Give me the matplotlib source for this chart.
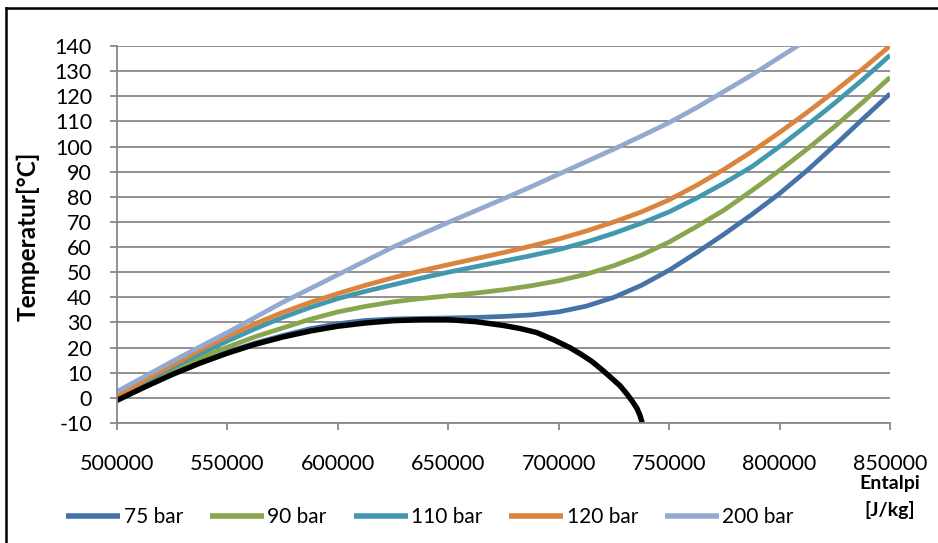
import matplotlib
matplotlib.use("Agg")
import matplotlib.pyplot as plt
from matplotlib.lines import Line2D
from matplotlib.ticker import MultipleLocator, FuncFormatter

# Enthalpy grid for the isobars [J/kg]
enthalpy = [500000, 512500, 525000, 537500, 550000, 562500, 575000, 587500,
            600000, 612500, 625000, 637500, 650000, 662500, 675000, 687500,
            700000, 712500, 725000, 737500, 750000, 762500, 775000, 787500,
            800000, 812500, 825000, 837500, 850000]

# Temperature along each isobar [°C]
t_75 = [-0.5, 4.8, 9.8, 14.2, 18.3, 21.8, 24.8, 27.5, 29.5, 30.8, 31.4, 31.6,
        31.8, 32.0, 32.4, 33.0, 34.2, 36.5, 40.0, 44.8, 50.8, 57.8, 65.2, 73.0,
        81.3, 90.5, 100.5, 110.8, 121.0]
t_90 = [0.0, 5.5, 10.8, 15.8, 20.2, 24.3, 27.8, 31.3, 34.2, 36.4, 38.2, 39.5,
        40.6, 41.7, 43.0, 44.6, 46.6, 49.2, 52.6, 56.8, 62.0, 68.2, 74.8, 82.5,
        90.5, 99.0, 108.0, 117.5, 127.5]
t_110 = [0.5, 6.5, 12.2, 17.5, 22.6, 27.5, 32.0, 36.0, 39.5, 42.4, 45.0, 47.6,
         50.0, 52.2, 54.4, 56.6, 59.0, 62.0, 65.5, 69.5, 74.0, 79.5, 85.5, 92.0,
         100.0, 108.5, 117.3, 126.5, 136.3]
t_120 = [0.5, 7.0, 13.0, 19.0, 24.5, 29.5, 34.0, 38.0, 41.5, 44.8, 47.8, 50.5,
         53.0, 55.4, 57.8, 60.4, 63.2, 66.4, 70.0, 74.0, 78.8, 84.6, 91.0, 98.0,
         105.6, 113.6, 122.0, 130.8, 140.0]
t_200 = [2.5, 8.5, 14.5, 20.3, 26.0, 32.0, 38.0, 43.5, 49.0, 54.5, 60.0, 65.0,
         69.8, 74.5, 79.2, 84.0, 89.0, 94.0, 99.0, 104.2, 109.5, 115.5, 122.0,
         128.5, 135.5, 142.5]

# Saturation dome
dome_h = [500000, 512500, 525000, 537500, 550000, 562500, 575000, 587500,
          600000, 612500, 625000, 637500, 650000, 662500, 675000, 682500,
          690000, 697500, 705000, 710000, 715000, 720000, 724000, 727800,
          731000, 733500, 735500, 736800, 737800]
dome_t = [-1.0, 4.3, 9.3, 13.8, 17.8, 21.3, 24.2, 26.6, 28.5, 29.8, 30.7, 31.1,
          31.1, 30.3, 28.8, 27.6, 26.0, 23.2, 20.0, 17.4, 14.5, 10.9, 7.8, 4.8,
          1.4, -1.6, -4.3, -7.0, -10.0]

series_labels = ["75 bar", "90 bar", "110 bar", "120 bar", "200 bar"]
series_values = [t_75, t_90, t_110, t_120, t_200]
series_colors = ["#4572A7", "#89A54E", "#4198AF", "#DB843D", "#93A9CF"]

x_ticks = [500000, 550000, 600000, 650000, 700000, 750000, 800000, 850000]

FONT = "Lato"
GRID = "#888888"

W, H = 938, 543
fig = plt.figure(figsize=(W / 100, H / 100), dpi=100)
ax = fig.add_axes([117 / W, 1 - 423 / H, (890 - 117) / W, (423 - 46) / H])

for label, vals, color in zip(series_labels, series_values, series_colors):
    ax.plot(enthalpy[:len(vals)], vals, color=color, lw=3.4, label=label,
            solid_capstyle="butt", solid_joinstyle="round")
ax.plot(dome_h, dome_t, color="black", lw=3.9, solid_capstyle="butt",
        solid_joinstyle="round")

ax.set_xlim(500000, 850000)
ax.set_ylim(-10, 140)
ax.set_xticks(x_ticks)
ax.yaxis.set_major_locator(MultipleLocator(10))
ax.xaxis.set_major_formatter(FuncFormatter(lambda v, p: f"{v:.0f}"))
ax.yaxis.set_major_formatter(FuncFormatter(lambda v, p: f"{v:.0f}"))

ax.grid(axis="y", color=GRID, lw=1.3)
ax.set_axisbelow(True)
for side in ("top", "right"):
    ax.spines[side].set_visible(False)
for side in ("left", "bottom"):
    ax.spines[side].set_color(GRID)
    ax.spines[side].set_linewidth(1.3)

ax.tick_params(axis="both", direction="out", length=5, width=1.3, color=GRID,
               labelsize=15.5, labelcolor="black")
ax.tick_params(axis="y", pad=13)
ax.tick_params(axis="x", pad=17)
for t in ax.get_xticklabels() + ax.get_yticklabels():
    t.set_fontfamily(FONT)

# Axis titles
fig.text(28 / W, 1 - 236 / H, "Temperatur[°C]", rotation=90, ha="center",
         va="center", fontsize=17.5, fontweight="bold", family=FONT)
fig.text(890 / W, 1 - 484 / H, "Entalpi", ha="center", va="center",
         fontsize=14, fontweight="bold", family=FONT)
fig.text(890 / W, 1 - 510 / H, "[J/kg]", ha="center", va="center",
         fontsize=14, fontweight="bold", family=FONT)

# Legend row along the bottom
fig.legend(loc="center", bbox_to_anchor=(430 / W, 1 - 517 / H), ncol=5,
           frameon=False, prop={"family": FONT, "size": 15},
           handlelength=2.6, handletextpad=0.15, columnspacing=1.3,
           borderpad=0, borderaxespad=0)
for line in fig.legends[0].get_lines():
    line.set_linewidth(4.0)

# Chart border
fig.add_artist(Line2D([5.5 / W, 5.5 / W], [1 - 8 / H, -0.05], color="black",
                      lw=1.8, transform=fig.transFigure))
fig.add_artist(Line2D([5.5 / W, 1.05], [1 - 8 / H, 1 - 8 / H], color="black",
                      lw=1.8, transform=fig.transFigure))

fig.savefig("out.png", dpi=100)
